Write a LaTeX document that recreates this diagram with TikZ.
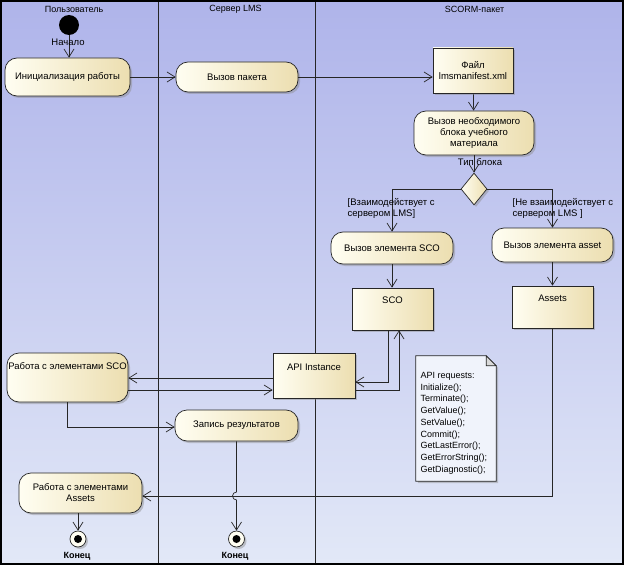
\documentclass[tikz,border=0pt]{standalone}
\usepackage{fontspec}
\setmainfont{Liberation Sans}
\usetikzlibrary{arrows.meta,shapes.geometric,shadows,calc}
\definecolor{bgtop}{HTML}{AFB4EA}
\definecolor{bgmid}{HTML}{C6D0F0}
\definecolor{bgbot}{HTML}{E2E8F7}
\definecolor{boxL}{HTML}{FFFEF2}
\definecolor{boxR}{HTML}{ECDEB0}
\definecolor{notefill}{HTML}{F0F3FB}
\begin{document}
\begin{tikzpicture}[x=1pt,y=-1pt,
  every node/.style={font=\fontsize{9.5}{11}\selectfont},
  shad/.style={drop shadow={shadow xshift=2pt,shadow yshift=-2pt,fill=black!45,opacity=0.45}},
  act/.style={draw=black!85,line width=0.7pt,rounded corners=12pt,left color=boxL,right color=boxR,shad,align=center,inner sep=2pt},
  obj/.style={draw=black!85,line width=0.7pt,rectangle,left color=boxL,right color=boxR,shad,align=center,inner sep=2pt},
  flow/.style={draw=black!85,line width=0.7pt,-{Straight Barb[length=8pt,width=10pt]}},
  lane/.style={draw=black!85,line width=0.8pt},
  hdr/.style={font=\fontsize{9}{11}\selectfont,inner sep=1pt},
  lbl/.style={inner sep=0.5pt},
  endnode/.style={circle,draw=black!85,line width=0.7pt,fill=boxL,minimum size=16pt,inner sep=0pt,shad,
    path picture={\fill[black] (path picture bounding box.center) circle[radius=4pt];}}
]
\useasboundingbox (0,0) rectangle (626,567);
\fill[white] (0,0) rectangle (626,567);
\shade[top color=bgtop,middle color=bgmid,bottom color=bgbot] (1,1) rectangle (623,564);
\draw[lane] (158,1) -- (158,564);
\draw[lane] (315,1) -- (315,564);
\draw[black,line width=1.6pt] (1,1) rectangle (623,564);

% headers
\node[hdr] (h1) at (74,9) {Пользователь};
\node[hdr] (h2) at (235.5,9) {Сервер LMS};
\node[hdr] (h3) at (474.5,9) {SCORM-пакет};

% nodes
\node[circle,fill=black,minimum size=20pt,inner sep=0pt] (start) at (69,25) {};
\node[act,minimum width=125pt,minimum height=38pt] (init) at (67.5,77) {Инициализация работы};
\node[act,minimum width=122pt,minimum height=30pt] (call) at (237,77) {Вызов пакета};
\node[obj,minimum width=80pt,minimum height=45pt] (file) at (473,70.5) {Файл\\lmsmanifest.xml};
\node[act,minimum width=120pt,minimum height=44pt] (need) at (474,133) {Вызов необходимого\\блока учебного\\материала};
\node[diamond,draw=black!85,line width=0.7pt,left color=boxL,right color=boxR,shad,minimum width=26pt,minimum height=32pt,inner sep=0pt] (dia) at (474,189) {};
\node[act,minimum width=122pt,minimum height=32pt] (scocall) at (392,248) {Вызов элемента SCO};
\node[act,minimum width=121pt,minimum height=34pt] (assetcall) at (552.5,245) {Вызов элемента asset};
\node[obj,minimum width=81pt,minimum height=42pt,text depth=17pt] (sco) at (392.5,309) {SCO};
\node[obj,minimum width=81pt,minimum height=42pt,text depth=18pt] (assets) at (552.5,307) {Assets};
\node[obj,minimum width=82pt,minimum height=45pt,text depth=17pt] (api) at (314,375.5) {API Instance};
\node[act,minimum width=121pt,minimum height=49pt,text depth=22pt,inner sep=1pt] (worksco) at (67.5,377.5) {Работа с элементами SCO};
\node[act,minimum width=123pt,minimum height=31pt] (zapis) at (236.5,425.5) {Запись результатов};
\node[act,minimum width=123pt,minimum height=40pt] (workassets) at (80.5,493) {Работа с элементами\\Assets};
\node[endnode] (end1) at (78,539) {};
\node[endnode] (end2) at (236.5,539) {};

% note
\node[minimum width=80pt,minimum height=125pt,inner sep=0pt] (note) at (456,418.5) {};
\filldraw[fill=notefill,draw=black!85,line width=0.7pt,shad] (note.north west) -- ($(note.north east)+(-10,0)$) -- ($(note.north east)+(0,10)$) -- (note.south east) -- (note.south west) -- cycle;
\filldraw[fill=black!15,draw=black!85,line width=0.7pt] ($(note.north east)+(-10,0)$) -- ($(note.north east)+(-10,10)$) -- ($(note.north east)+(0,10)$) -- cycle;
\node[anchor=north west,align=left,inner sep=0pt,font=\fontsize{9}{11.75}\selectfont] (notetext) at (420.5,372) {API requests:\\Initialize();\\Terminate();\\GetValue();\\SetValue();\\Commit();\\GetLastError();\\GetErrorString();\\GetDiagnostic();};

% connectors
\draw[flow] (start) -- (start |- init.north);
\draw[flow] (init.east) -- (init.east -| call.west);
\draw[flow] (call.east) -- (call.east -| file.west);
\draw[flow] (file) -- (need);
\draw[flow] (need) -- (dia);
\draw[flow] (dia.west) -| (scocall.north);
\draw[flow] (dia.east) -| (assetcall.north);
\draw[flow] (scocall.south) -- (scocall.south |- sco.north);
\draw[flow] (assetcall) -- (assets);
\draw[flow] ($(sco.south)+(-4.5,0)$) |- ($(api.east)+(0,6.5)$);
\draw[flow] ($(api.east)+(0,14.5)$) -| ($(sco.south)+(6.5,0)$);
\draw[flow] ($(api.west)+(0,2.5)$) -- ($(worksco.east)+(0,0.5)$);
\draw[flow] ($(worksco.east)+(0,12.5)$) -- ($(api.west)+(0,14.5)$);
\draw[flow] (worksco.south) |- ($(zapis.west)+(0,1.5)$);
\draw[flow] (zapis.south) -- (236.5,492) arc[start angle=270,end angle=90,radius=4] -- (end2);
\draw[flow] (assets.south) |- ($(workassets.east)+(0,3)$);
\draw[flow] (end1 |- workassets.south) -- (end1);

% labels
\node[lbl] (lstart) at (68,42) {Начало};
\node[lbl] (ltype) at (480,162) {Тип блока};
\node[lbl,anchor=north west,align=left,inner sep=0pt] (gl) at (347.5,198.5) {[Взаимодействует с\\сервером LMS]};
\node[lbl,anchor=north west,align=left,inner sep=0pt] (gr) at (512.5,198.5) {[Не взаимодействует с\\сервером LMS ]};
\node[lbl,font=\bfseries\fontsize{9}{11}\selectfont] (lend1) at (77,556) {Конец};
\node[lbl,font=\bfseries\fontsize{9}{11}\selectfont] (lend2) at (235,556) {Конец};
\end{tikzpicture}
\end{document}
